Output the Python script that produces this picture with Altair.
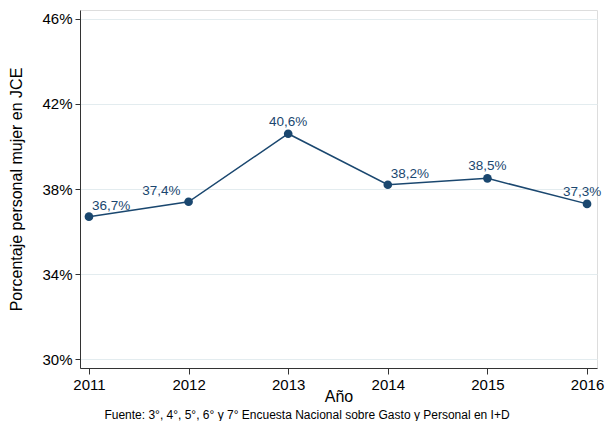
import altair as alt
import pandas as pd

years = [2011, 2012, 2013, 2014, 2015, 2016]
values = [36.7, 37.4, 40.6, 38.2, 38.5, 37.3]
y_ticks = [30, 34, 38, 42, 46]
source_text = "Fuente: 3°, 4°, 5°, 6° y 7° Encuesta Nacional sobre Gasto y Personal en I+D"

df = pd.DataFrame({"year": years, "value": values})

NAVY = "#1a476f"
FONT = "Liberation Sans"

x_enc = alt.X("year:Q", scale=alt.Scale(domain=[2010.91, 2016.1], nice=False, zero=False),
              axis=alt.Axis(values=years, format="d", title="Año", grid=False,
                            labelFontSize=15, titleFontSize=16, titleFontWeight="normal",
                            labelColor="black", titleColor="black", domainColor="#333333",
                            tickColor="#333333", tickSize=6, labelPadding=3,
                            titleBaseline="alphabetic", titleY=33,
                            labelFont=FONT, titleFont=FONT))
y_enc = alt.Y("value:Q", scale=alt.Scale(domain=[29.58, 46.42], nice=False, zero=False),
              axis=alt.Axis(values=y_ticks, labelExpr="format(datum.value, 'd') + '%'",
                            title="Porcentaje personal mujer en JCE", grid=True,
                            gridColor="#e3ecef", gridWidth=1,
                            labelFontSize=15, titleFontSize=16, titleFontWeight="normal",
                            labelColor="black", titleColor="black", domainColor="#333333",
                            tickColor="#333333", tickSize=5, labelPadding=3,
                            titleBaseline="alphabetic", titleX=-59, titleY=179, titleAngle=270,
                            labelFont=FONT, titleFont=FONT))

base = alt.Chart(df).encode(x=x_enc, y=y_enc)

line = base.mark_line(color=NAVY, strokeWidth=1.5)
points = base.mark_point(color=NAVY, filled=True, opacity=1, size=75)

lab = base.transform_calculate(
    lbl="replace(format(datum.value, '.1f'), '.', ',') + '%'"
)

def text_layer(yrs, **kw):
    return lab.transform_filter(
        alt.FieldOneOfPredicate(field="year", oneOf=yrs)
    ).mark_text(color=NAVY, fontSize=13.5, font=FONT, baseline="alphabetic", **kw).encode(text="lbl:N")

t_right = text_layer([2011, 2014], align="left", dx=3, dy=-7)
t_left = text_layer([2012], align="right", dx=-8, dy=-7)
t_center = text_layer([2013, 2015], align="center", dx=0, dy=-8)
t_last = text_layer([2016], align="center", dx=-5, dy=-8)

src = alt.Chart(df).mark_text(text=source_text, fontSize=12, font=FONT, color="black",
                              align="center", baseline="alphabetic").encode(
    x=alt.value(227), y=alt.value(409)
).transform_filter(alt.datum.year == 2011)

chart = alt.layer(line, points, t_right, t_left, t_center, t_last, src).properties(
    width=517, height=358,
    autosize=alt.AutoSizeParams(type="none"),
    padding={"left": 72, "top": 2, "right": 8, "bottom": 53},
).configure_view(stroke=None).configure(background="white")

chart.save("out.html", embed_options={"renderer": "svg", "actions": False})
